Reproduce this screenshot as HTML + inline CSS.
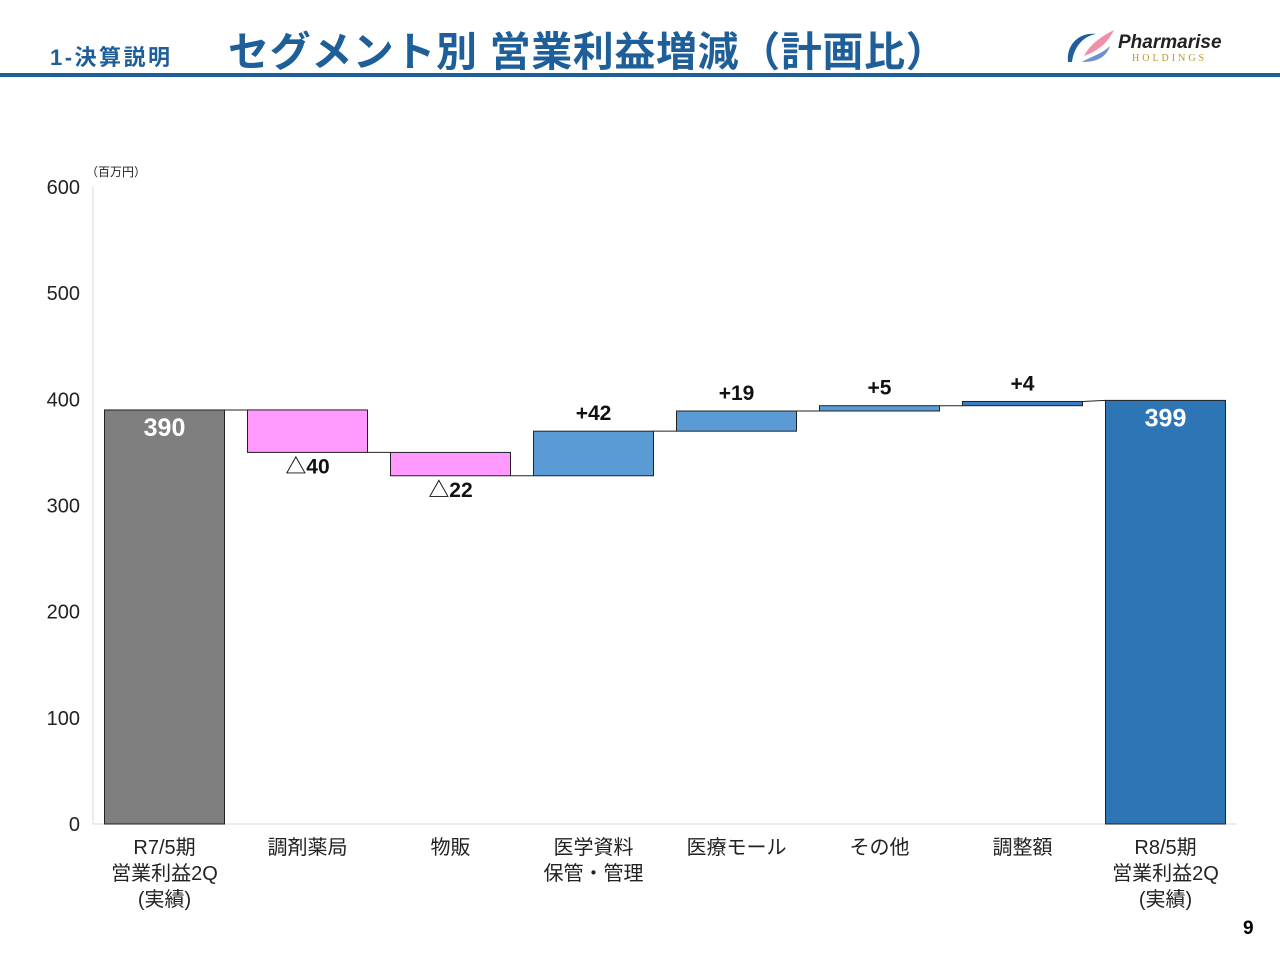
<!DOCTYPE html>
<html><head><meta charset="utf-8"><style>
body{margin:0;width:1280px;height:960px;background:#fff;font-family:"Liberation Sans","Noto Sans CJK JP",sans-serif;overflow:hidden;position:relative}
.hdr{position:absolute;left:0;top:0;width:1280px;height:78px}
</style></head><body>
<div class="hdr">
<div style="position:absolute;left:50px;top:40px;font-size:22px;font-weight:bold;color:#1f5f99;letter-spacing:2.5px">1-決算説明</div>
<div style="position:absolute;left:228px;top:18px;font-size:41px;font-weight:bold;color:#1f5f99;letter-spacing:0.6px">セグメント別 営業利益増減（計画比）</div>
<div style="position:absolute;left:1062px;top:26px;width:170px;height:42px">
<svg width="60" height="42" style="position:absolute;left:0;top:0"><path d="M6,36 C4,18 18,6 34,8 C22,10 12,20 10,36 Z" fill="#1f5f99"/><path d="M22,30 C28,18 40,10 52,4 C46,16 38,24 22,30 Z" fill="#f08fa8"/><path d="M20,36 C30,30 40,28 48,20 C44,32 34,36 20,36 Z" fill="#6f8fcf"/></svg>
<div style="position:absolute;left:56px;top:6px;font-size:19px;font-weight:bold;font-style:italic;color:#222">Pharmarise</div>
<div style="position:absolute;left:70px;top:27px;font-size:10px;letter-spacing:3px;color:#b99a2a;font-family:'Liberation Serif',serif">HOLDINGS</div>
</div>
<div style="position:absolute;left:0;top:73px;width:1280px;height:4px;background:#1f5f99"></div>
</div>
<svg id="chart" width="1280" height="960" style="position:absolute;left:0;top:0"></svg>
<div style="position:absolute;left:1243px;top:918px;font-size:19px;font-weight:bold">9</div>
<script>
const categories=[["R7/5期","営業利益2Q","(実績)"],["調剤薬局"],["物販"],["医学資料","保管・管理"],["医療モール"],["その他"],["調整額"],["R8/5期","営業利益2Q","(実績)"]];
const values=[390,-40,-22,42,19,5,4,399];
const labels=["390","△40","△22","+42","+19","+5","+4","399"];
const yTicks=[0,100,200,300,400,500,600];
const NS="http://www.w3.org/2000/svg",svg=document.getElementById('chart');
const x0=93,x1=1237,yb=824,yt=187,vmax=600;
const y=v=>yb-(v/vmax)*(yb-yt);
const bw=(x1-x0)/categories.length;
const cx=i=>x0+bw*(i+0.5);
function mk(t,a){const e=document.createElementNS(NS,t);for(const k in a)e.setAttribute(k,a[k]);svg.appendChild(e);return e;}
let ax=mk('line',{x1:x0,y1:yt,x2:x0,y2:yb,stroke:'#d9d9d9'});

let bx=mk('line',{x1:x0,y1:yb,x2:x1,y2:yb,stroke:'#d9d9d9'});

yTicks.forEach(v=>{const t=mk('text',{x:80,y:y(v)+7,'text-anchor':'end','font-size':20,fill:'#222'});t.textContent=v;
});
const u=mk('text',{x:86,y:176,'font-size':12,fill:'#222'});u.textContent='（百万円）';

let run=0;const w=120;
values.forEach((v,i)=>{
 const last=i===values.length-1;let lo,hi,fill;
 if(i===0||last){lo=0;hi=v;fill=i===0?'#7f7f7f':'#2e75b6';run=v;}
 else{const p=run;run+=v;lo=Math.min(p,run);hi=Math.max(p,run);fill=v<0?'#ff99ff':(i===6?'#3a7cc0':'#5b9bd5');}
 const r=mk('rect',{x:cx(i)-w/2,y:y(hi),width:w,height:Math.max(1,y(lo)-y(hi)),fill:fill,stroke:'#222','stroke-width':1});
 
 if(i<values.length-1){const nx=cx(i+1)-w/2;const c=mk('line',{x1:cx(i)+w/2,y1:y(run),x2:nx,y2:(i===6?y(values[7]):y(run)),stroke:'#222','stroke-width':1});
  }
 let ly,col='#111';
 if(i===0||last){ly=y(hi)+26;col='#fff';}else if(v<0)ly=y(lo)+21;else ly=y(hi)-11;
 const t=mk('text',{x:cx(i),y:ly,'text-anchor':'middle','font-size':i===0||last?25:21,'font-weight':'bold',fill:col});t.textContent=labels[i];
 
 categories[i].forEach((s,k)=>{const c=mk('text',{x:cx(i),y:854+k*26,'text-anchor':'middle','font-size':20,fill:'#222'});c.textContent=s;
  });
});
</script>
</body></html>
